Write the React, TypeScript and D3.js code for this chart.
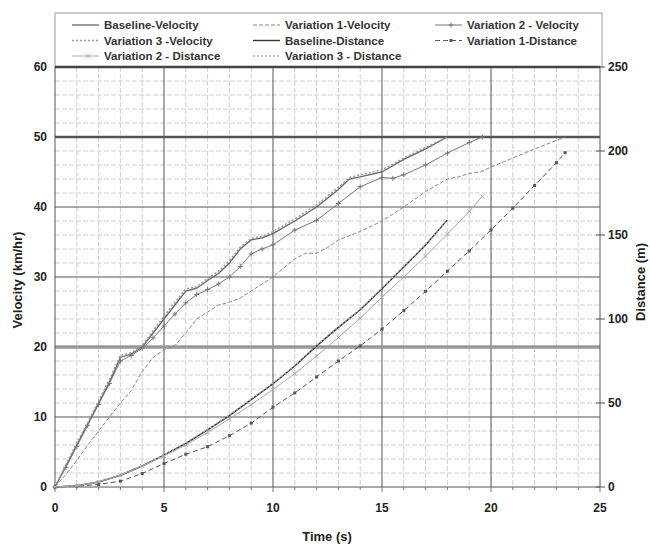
import React from 'react';
import * as d3 from 'd3';

// time (s) / velocity (km/hr) / distance (m)
const baseVelT = [0, 0.5, 1, 1.5, 2, 2.5, 3, 3.5, 4, 4.5, 5, 5.5, 6, 6.5, 7, 7.5, 8, 8.5, 9, 9.5, 10, 11, 12, 13, 13.5, 14, 15, 16, 17, 18];
const baseVel = [0, 3, 6, 9, 12, 15, 18.5, 19, 20, 22, 24, 26, 28, 28.4, 29.5, 30.5, 32, 34, 35.3, 35.6, 36.2, 38, 40, 42.5, 44, 44.3, 45, 46.8, 48.3, 50];
const var3Vel = [0, 3.2, 6.3, 9.2, 12.3, 15.4, 18.8, 19.2, 20.2, 22.3, 24.4, 26.4, 28.3, 28.6, 29.8, 30.8, 32.3, 34.3, 35.5, 35.8, 36.5, 38.3, 40.3, 42.8, 44.2, 44.6, 45.3, 47, 48.5, 50];

const var2VelT = [0, 0.5, 1, 1.5, 2, 2.5, 3, 3.5, 4, 4.5, 5, 5.5, 6, 6.5, 7, 7.5, 8, 8.5, 9, 9.5, 10, 11, 12, 13, 14, 15, 15.5, 16, 17, 18, 19, 19.6];
const var2Vel = [0, 2.8, 5.8, 8.8, 11.8, 14.8, 18, 18.8, 19.8, 21.3, 23, 24.7, 26.3, 27.5, 28.2, 29, 30, 31.5, 33.3, 34, 34.6, 36.7, 38.1, 40.5, 42.9, 44.2, 44.1, 44.6, 46, 47.7, 49.2, 50];

const var1VelT = [0, 0.5, 1, 1.5, 2, 2.5, 3, 3.5, 4, 4.5, 5, 5.5, 6, 6.5, 7, 7.5, 8, 8.5, 9, 9.5, 10, 10.5, 11, 11.5, 12, 12.5, 13, 14, 15, 16, 17, 18, 18.5, 19, 19.5, 20, 21, 22, 23, 23.4];
const var1Vel = [0, 1.8, 3.8, 6, 8, 10, 12, 13.8, 16.5, 18.5, 19.6, 20.2, 22, 24, 25, 26, 26.4, 27, 28, 29, 30, 31.3, 32.6, 33.4, 33.4, 34.2, 35.3, 36.5, 38, 40, 42.2, 44, 44.3, 44.8, 45, 45.7, 47, 48.3, 49.5, 50];

const baseDistT = [0, 1, 2, 3, 4, 5, 6, 7, 8, 9, 10, 11, 12, 13, 14, 15, 16, 17, 18];
const baseDist = [0, 0.8, 3, 7, 12.5, 19, 26, 34, 42.5, 52, 61.5, 72, 84, 95, 105.5, 118, 131, 144, 159];
const var3Dist = [0, 0.8, 3.1, 7.2, 12.7, 19.2, 26.3, 34.3, 42.8, 52.3, 61.8, 72.4, 84.3, 95.3, 105.8, 118.4, 131.3, 144.4, 159];

const var2DistT = [0, 1, 2, 3, 4, 5, 6, 7, 8, 9, 10, 11, 12, 13, 14, 15, 16, 17, 18, 19, 19.6];
const var2Dist = [0, 0.8, 3, 7, 12.5, 18.5, 25, 32.5, 40.5, 49, 58, 67.5, 78, 89, 100.5, 113, 125, 137.5, 150.5, 164, 173];

const var1DistT = [0, 1, 2, 3, 4, 5, 6, 7, 8, 9, 10, 11, 12, 13, 14, 15, 16, 17, 18, 19, 20, 21, 22, 23, 23.4];
const var1Dist = [0, 0.5, 1.5, 3.5, 8, 14, 19.5, 24, 30.5, 38, 47.5, 56, 65.5, 75, 84, 94, 105, 116.5, 128.5, 140.5, 153, 166, 179.5, 193, 199];

const xTicks = [0, 5, 10, 15, 20, 25];
const velTicks = [0, 10, 20, 30, 40, 50, 60];
const distTicks = [0, 50, 100, 150, 200, 250];

const FONT = '"Liberation Sans", Arial, sans-serif';

const series = [
  { name: 'Baseline-Velocity', axis: 'v', t: baseVelT, y: baseVel, color: '#666', width: 1.3, dash: '', marker: '' },
  { name: 'Variation 1-Velocity', axis: 'v', t: var1VelT, y: var1Vel, color: '#888', width: 1, dash: '4,2', marker: '' },
  { name: 'Variation 2 - Velocity', axis: 'v', t: var2VelT, y: var2Vel, color: '#777', width: 1, dash: '', marker: 'plus' },
  { name: 'Variation 3 -Velocity', axis: 'v', t: baseVelT, y: var3Vel, color: '#999', width: 1.5, dash: '2,2', marker: '' },
  { name: 'Baseline-Distance', axis: 'd', t: baseDistT, y: baseDist, color: '#333', width: 1.4, dash: '', marker: '' },
  { name: 'Variation 1-Distance', axis: 'd', t: var1DistT, y: var1Dist, color: '#555', width: 1, dash: '5,3', marker: 'square' },
  { name: 'Variation 2 - Distance', axis: 'd', t: var2DistT, y: var2Dist, color: '#aaa', width: 1, dash: '', marker: 'cross' },
  { name: 'Variation 3 - Distance', axis: 'd', t: baseDistT, y: var3Dist, color: '#aaa', width: 1.3, dash: '2,2', marker: '' },
];

const Marker = ({ kind, x, y, color }: { kind: string; x: number; y: number; color: string }) => {
  if (kind === 'plus')
    return <path d={`M${x - 2.5},${y}H${x + 2.5}M${x},${y - 2.5}V${y + 2.5}`} stroke={color} strokeWidth={1} />;
  if (kind === 'cross')
    return <path d={`M${x - 2},${y - 2}L${x + 2},${y + 2}M${x - 2},${y + 2}L${x + 2},${y - 2}`} stroke={color} strokeWidth={1} />;
  if (kind === 'square') return <rect x={x - 1.5} y={y - 1.5} width={3} height={3} fill={color} />;
  return null;
};

export default function App() {
  const x = d3.scaleLinear().domain([0, 25]).range([55, 600]);
  const yV = d3.scaleLinear().domain([0, 60]).range([487, 67]);
  const yD = d3.scaleLinear().domain([0, 250]).range([487, 67]);

  const minorX = d3.range(1, 25).filter((d) => d % 5 !== 0);
  const minorY = d3.range(2, 60, 2).filter((d) => d % 10 !== 0);

  const legendCols = [72, 253, 435];
  const legendRows = [25, 40.5, 56];

  return (
    <svg width={650} height={544} style={{ position: 'absolute', left: 0, top: 0, background: '#fff' }} fontFamily={FONT}>
      {/* minor grid */}
      {minorX.map((d) => (
        <line key={'mx' + d} x1={x(d)} x2={x(d)} y1={67} y2={487} stroke="#d0d0d0" strokeDasharray="5,2" />
      ))}
      {minorY.map((d) => (
        <line key={'my' + d} x1={55} x2={600} y1={yV(d)} y2={yV(d)} stroke="#d0d0d0" strokeDasharray="5,2" />
      ))}
      {/* major grid */}
      {xTicks.slice(1, -1).map((d) => (
        <line key={'gx' + d} x1={x(d)} x2={x(d)} y1={67} y2={487} stroke="#555" strokeWidth={1} />
      ))}
      {[10, 30, 40].map((d) => (
        <line key={'gy' + d} x1={55} x2={600} y1={yV(d)} y2={yV(d)} stroke="#555" strokeWidth={1} />
      ))}
      <line x1={55} x2={600} y1={yV(20)} y2={yV(20)} stroke="#999" strokeWidth={3.5} />
      <line x1={55} x2={600} y1={yV(50)} y2={yV(50)} stroke="#555" strokeWidth={2.5} />

      {/* legend box */}
      <rect x={55} y={13} width={547} height={54} fill="#fff" stroke="#999" strokeWidth={1} />
      {series.map((s, i) => {
        const cx = legendCols[i % 3];
        const cy = legendRows[Math.floor(i / 3)];
        return (
          <g key={'lg' + i}>
            <line x1={cx} x2={cx + 27} y1={cy} y2={cy} stroke={s.color} strokeWidth={s.width} strokeDasharray={s.dash} />
            <Marker kind={s.marker} x={cx + 16} y={cy} color={s.color} />
            <text x={cx + 32} y={cy + 4} fontSize={11.5} fontWeight="bold" fill="#333">
              {s.name}
            </text>
          </g>
        );
      })}

      {/* plot frame */}
      <line x1={55} x2={600} y1={67} y2={67} stroke="#444" strokeWidth={2.5} />
      <line x1={55} x2={55} y1={67} y2={487} stroke="#555" />
      <line x1={600} x2={600} y1={67} y2={487} stroke="#555" />
      <line x1={55} x2={600} y1={487} y2={487} stroke="#555" />

      {/* series */}
      {series.map((s, i) => {
        const ys = s.axis === 'v' ? yV : yD;
        const pts = s.t.map((t, j) => [x(t), ys(s.y[j])] as [number, number]);
        const path = d3.line().curve(d3.curveLinear)(pts) || '';
        return (
          <g key={'s' + i}>
            <path d={path} fill="none" stroke={s.color} strokeWidth={s.width} strokeDasharray={s.dash} />
            {s.marker && pts.map((p, j) => <Marker key={j} kind={s.marker} x={p[0]} y={p[1]} color={s.color} />)}
          </g>
        );
      })}

      {/* x axis */}
      {d3.range(0, 26).map((d) => (
        <line key={'xt' + d} x1={x(d)} x2={x(d)} y1={487} y2={d % 5 === 0 ? 492 : 490} stroke="#777" />
      ))}
      {xTicks.map((d) => (
        <text key={'xl' + d} x={x(d)} y={512} textAnchor="middle" fontSize={12} fontWeight="bold" fill="#222">
          {d}
        </text>
      ))}
      <text x={327} y={541} textAnchor="middle" fontSize={13} fontWeight="bold" fill="#222">
        Time (s)
      </text>

      {/* left axis */}
      {velTicks.map((d) => (
        <text key={'vl' + d} x={47} y={yV(d) + 4} textAnchor="end" fontSize={12} fontWeight="bold" fill="#222">
          {d}
        </text>
      ))}
      <text transform="translate(22,280) rotate(-90)" textAnchor="middle" fontSize={13} fontWeight="bold" fill="#222">
        Velocity (km/hr)
      </text>

      {/* right axis */}
      {distTicks.map((d) => (
        <g key={'dl' + d}>
          <line x1={596} x2={605} y1={yD(d)} y2={yD(d)} stroke="#555" />
          <text x={608} y={yD(d) + 4} fontSize={12} fontWeight="bold" fill="#222">
            {d}
          </text>
        </g>
      ))}
      <text transform="translate(645,282) rotate(-90)" textAnchor="middle" fontSize={13} fontWeight="bold" fill="#222">
        Distance (m)
      </text>
    </svg>
  );
}
